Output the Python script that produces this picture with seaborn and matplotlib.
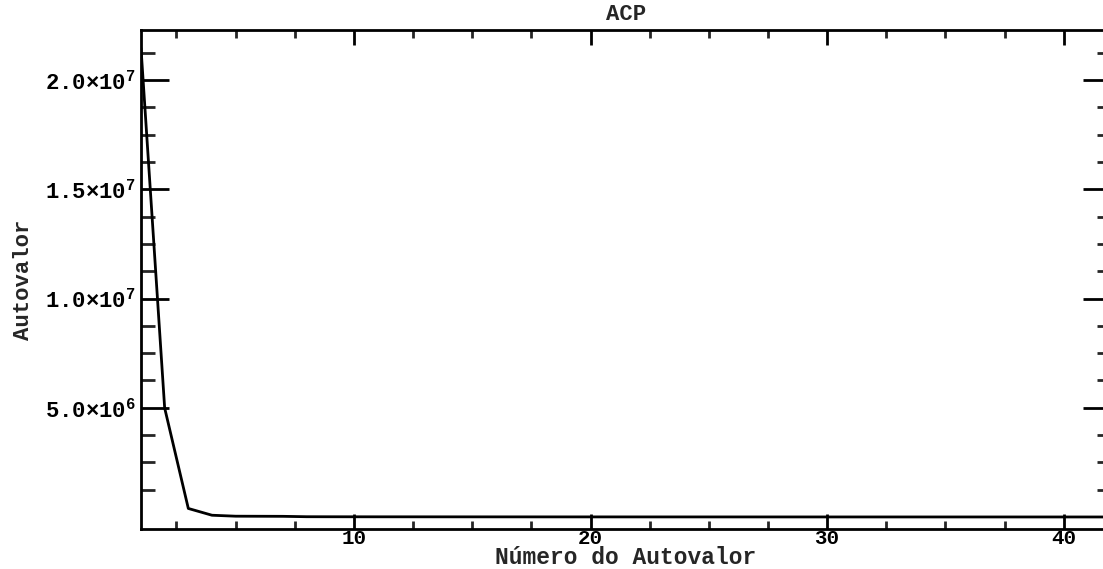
import matplotlib
matplotlib.use("Agg")
import matplotlib.pyplot as plt
import seaborn as sns
import pandas as pd
from matplotlib.ticker import FixedLocator, FixedFormatter, MultipleLocator

# ---- data ----
autovalor_num = list(range(1, 43))
autovalores = [2.146e7, 4.99e6, 3.9e5, 8.0e4, 3.6e4, 3.3e4, 3.0e4, 1.2e4,
               1.0e4, 9.0e3, 8.0e3, 7.5e3, 7.0e3, 6.5e3, 6.0e3, 5.5e3,
               5.0e3, 4.6e3, 4.2e3, 3.9e3, 3.6e3, 3.3e3, 3.0e3, 2.8e3,
               2.6e3, 2.4e3, 2.2e3, 2.0e3, 1.8e3, 1.6e3, 1.5e3, 1.4e3,
               1.3e3, 1.2e3, 1.1e3, 1.0e3, 9e2, 8e2, 7e2, 6e2, 5e2, 4e2]
y_major_ticks = [5.0e6, 1.0e7, 1.5e7, 2.0e7]
y_major_labels = ["5.0×10$^{6}$", "1.0×10$^{7}$", "1.5×10$^{7}$", "2.0×10$^{7}$"]
x_major_ticks = [10, 20, 30, 40]
title = "ACP"
xlabel = "Número do Autovalor"
ylabel = "Autovalor"

df = pd.DataFrame({"n": autovalor_num, "v": autovalores})

sns.set_theme(style="white")
plt.rcParams["font.family"] = ["Liberation Mono", "DejaVu Sans Mono", "DejaVu Sans"]
plt.rcParams["font.weight"] = "bold"
plt.rcParams["mathtext.default"] = "regular"

fig = plt.figure(figsize=(11.03, 5.69), dpi=100)
W, H = 1103, 569
ax = fig.add_axes([141 / W, (H - 529) / H, 970 / W, 499 / H])

sns.lineplot(data=df, x="n", y="v", ax=ax, color="black", linewidth=2.0)

ax.set_xlim(1, 42)
ax.set_ylim(-5.5e5, 2.229e7)

ax.xaxis.set_major_locator(FixedLocator(x_major_ticks))
ax.xaxis.set_minor_locator(MultipleLocator(2.5))
ax.yaxis.set_major_locator(FixedLocator(y_major_ticks))
ax.yaxis.set_major_formatter(FixedFormatter(y_major_labels))
ax.yaxis.set_minor_locator(FixedLocator([1.25e6 * k for k in range(1, 18) if k % 4 != 0]))

for s in ax.spines.values():
    s.set_visible(True)
    s.set_color("black")
    s.set_linewidth(2.0)

ax.tick_params(axis="x", which="major", direction="in", length=11, width=2,
               top=True, bottom=True, labelsize=15, pad=0, colors="black")
ax.tick_params(axis="x", which="minor", direction="in", length=5.5, width=2,
               top=True, bottom=True)
ax.tick_params(axis="y", which="major", direction="in", length=20, width=2,
               left=True, right=True, labelsize=16, pad=4, colors="black")
ax.tick_params(axis="y", which="minor", direction="in", length=10, width=2,
               left=True, right=True)
for lab in ax.get_xticklabels() + ax.get_yticklabels():
    lab.set_fontweight("bold")

ax.set_title(title, fontsize=16, fontweight="bold", pad=7)
ax.set_xlabel(xlabel, fontsize=16.5, fontweight="bold", va="bottom")
ax.xaxis.set_label_coords(0.5, -40 / 499)
ax.set_ylabel(ylabel, fontsize=16, fontweight="bold", labelpad=8)
ax.grid(False)

fig.savefig("out.png", dpi=100)
